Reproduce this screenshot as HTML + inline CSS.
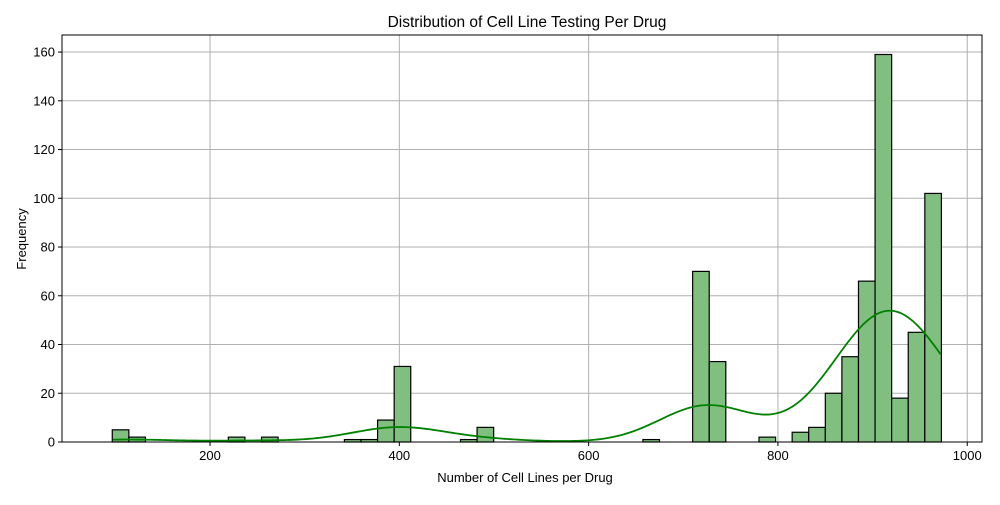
<!DOCTYPE html>
<html><head><meta charset="utf-8"><style>
body{margin:0;background:#fff;}
svg{font-family:"Liberation Sans","DejaVu Sans",sans-serif;}
</style></head><body>
<svg id="chart" width="1000" height="500"></svg>
<script>
const binStart = 96.7;
const binWidth = 17.52;
const counts = [5,2,0,0,0,0,0,2,0,2,0,0,0,0,1,1,9,31,0,0,0,1,6,0,0,0,0,0,0,0,0,0,1,0,0,70,33,0,0,2,0,4,6,20,35,66,159,18,45,102];
const xTicks = [200,400,600,800,1000];
const yTicks = [0,20,40,60,80,100,120,140,160];

const NS="http://www.w3.org/2000/svg";
const svg=document.getElementById('chart');
const L=62,R=982,T=35,B=442;
const xMin=43.6, xMax=1015.6, yMax=167;
const X=v=>L+(v-xMin)/(xMax-xMin)*(R-L);
const Y=v=>B-v/yMax*(B-T);
function mk(tag,attrs,parent){const e=document.createElementNS(NS,tag);for(const k in attrs)e.setAttribute(k,attrs[k]);(parent||svg).appendChild(e);return e;}

const grid=mk('g',{});


xTicks.forEach(t=>{mk('line',{x1:X(t),x2:X(t),y1:T,y2:B,stroke:'#b0b0b0','stroke-width':1},grid);});
yTicks.forEach(t=>{mk('line',{x1:L,x2:R,y1:Y(t),y2:Y(t),stroke:'#b0b0b0','stroke-width':1},grid);});

const bars=mk('g',{});


counts.forEach((c,i)=>{
  if(c<=0)return;
  const x0=X(binStart+i*binWidth), x1=X(binStart+(i+1)*binWidth);
  const r=mk('rect',{x:x0,y:Y(c),width:x1-x0,height:Y(0)-Y(c),fill:'#80bf80',stroke:'#000','stroke-width':1.2},bars);
  
  
});

let pts=[],n=0;
counts.forEach((c,i)=>{if(c>0){pts.push([binStart+(i+0.5)*binWidth,c]);n+=c;}});
let mean=pts.reduce((s,p)=>s+p[0]*p[1],0)/n;
let sd=Math.sqrt(pts.reduce((s,p)=>s+p[1]*(p[0]-mean)**2,0)/(n-1));
const bw=sd*Math.pow(n,-0.2);
const lo=binStart+0.5*binWidth-8, hi=binStart+(counts.length-0.5)*binWidth+8;
let d='';
for(let k=0;k<=300;k++){
  const x=lo+(hi-lo)*k/300;
  let s=0;pts.forEach(p=>{s+=p[1]*Math.exp(-0.5*((x-p[0])/bw)**2);});
  const dens=s/(n*bw*Math.sqrt(2*Math.PI));
  const v=dens*n*binWidth;
  d+=(k?'L':'M')+X(x).toFixed(2)+','+Y(v).toFixed(2);
}
const kde=mk('path',{d:d,fill:'none',stroke:'#008000','stroke-width':1.8});



const frame=mk('rect',{x:L,y:T,width:R-L,height:B-T,fill:'none',stroke:'#000','stroke-width':1});



xTicks.forEach(t=>{
  mk('line',{x1:X(t),x2:X(t),y1:B,y2:B+4,stroke:'#000'});
  const tx=mk('text',{x:X(t),y:B+18,'text-anchor':'middle','font-size':13});
  tx.textContent=t;
  
  
});
yTicks.forEach(t=>{
  mk('line',{x1:L-4,x2:L,y1:Y(t),y2:Y(t),stroke:'#000'});
  const tx=mk('text',{x:L-7,y:Y(t)+4.5,'text-anchor':'end','font-size':13});
  tx.textContent=t;
  
  
});
</script>
<svg width="1000" height="500" style="position:absolute;left:0;top:0;pointer-events:none">
<text x="527" y="27" text-anchor="middle" font-size="15.5">Distribution of Cell Line Testing Per Drug</text>
<text x="525" y="482" text-anchor="middle" font-size="13">Number of Cell Lines per Drug</text>
<text x="26" y="239" text-anchor="middle" font-size="13" transform="rotate(-90 26 239)">Frequency</text>
</svg>
</body></html>
